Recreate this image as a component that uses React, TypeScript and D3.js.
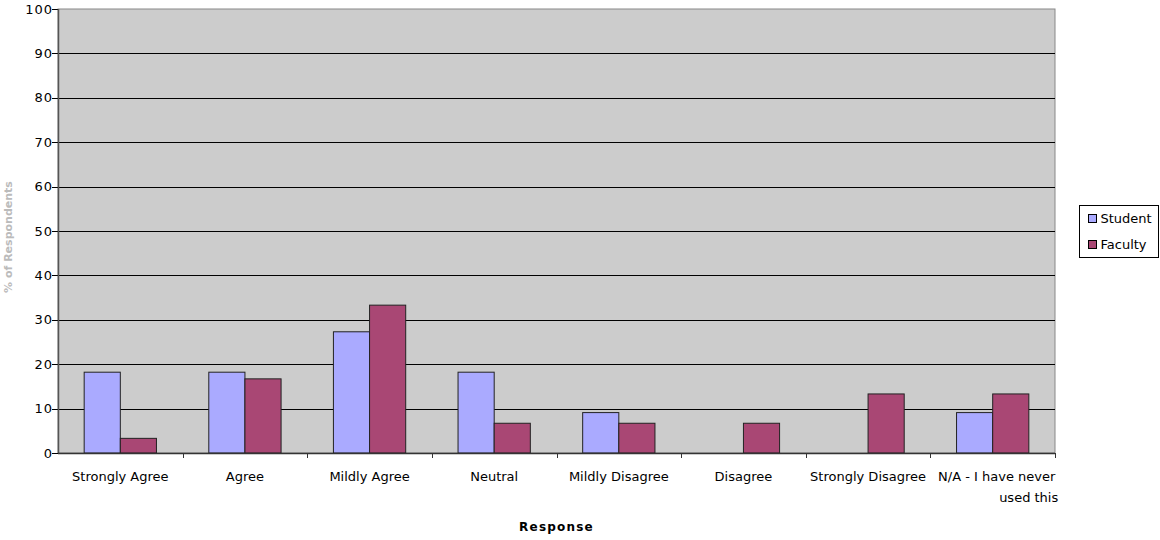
import React from "react";
import * as d3 from "d3";

const categories = [
  "Strongly Agree",
  "Agree",
  "Mildly Agree",
  "Neutral",
  "Mildly Disagree",
  "Disagree",
  "Strongly Disagree",
  "N/A - I have never used this",
];
const studentValues = [18.2, 18.2, 27.3, 18.2, 9.1, 0, 0, 9.1];
const facultyValues = [3.3, 16.7, 33.3, 6.7, 6.7, 6.7, 13.3, 13.3];
const seriesNames = ["Student", "Faculty"];
const seriesColors = ["#aaaaff", "#a94774"];
const yTicks = [0, 10, 20, 30, 40, 50, 60, 70, 80, 90, 100];

const W = 1160;
const H = 540;
const plot = { left: 58, right: 1055, top: 9, bottom: 453 };

export default function App() {
  const x = d3
    .scaleBand<string>()
    .domain(categories)
    .range([plot.left, plot.right])
    .paddingInner(0)
    .paddingOuter(0);
  const bw = x.bandwidth();
  const outer = bw * 0.21;
  const x1 = d3
    .scaleBand<string>()
    .domain(seriesNames)
    .range([outer, bw - outer]);
  const y = d3.scaleLinear().domain([0, 100]).range([plot.bottom, plot.top]);
  const series = [studentValues, facultyValues];
  const font = "'DejaVu Sans', Verdana, sans-serif";

  return (
    <svg
      width={W}
      height={H}
      style={{ position: "absolute", left: 0, top: 0, display: "block" }}
      fontFamily={font}
    >
      <rect x={0} y={0} width={W} height={H} fill="#ffffff" />
      <rect
        x={plot.left}
        y={plot.top}
        width={plot.right - plot.left}
        height={plot.bottom - plot.top}
        fill="#cccccc"
        stroke="#888"
        strokeWidth={1}
      />
      {yTicks.map((t) => (
        <g key={t}>
          {t > 0 && t < 100 && (
            <line
              x1={plot.left}
              x2={plot.right}
              y1={Math.round(y(t)) + 0.5}
              y2={Math.round(y(t)) + 0.5}
              stroke="#000"
              strokeWidth={1}
            />
          )}
          <line
            x1={plot.left - 6}
            x2={plot.left}
            y1={Math.round(y(t)) + 0.5}
            y2={Math.round(y(t)) + 0.5}
            stroke="#000"
          />
          <text
            x={plot.left - 5}
            y={y(t)}
            dy="0.35em"
            textAnchor="end"
            fontSize={13}
            letterSpacing={1}
            fill="#000"
          >
            {t}
          </text>
        </g>
      ))}
      {categories.map((c, i) =>
        series.map((vals, s) => {
          const v = vals[i];
          if (v <= 0) return null;
          const bx = (x(c) as number) + (x1(seriesNames[s]) as number);
          return (
            <rect
              key={c + s}
              x={bx}
              y={y(v)}
              width={x1.bandwidth()}
              height={y(0) - y(v)}
              fill={seriesColors[s]}
              stroke="#222"
              strokeWidth={1}
            />
          );
        })
      )}
      <line
        x1={plot.left + 0.5}
        x2={plot.left + 0.5}
        y1={plot.top}
        y2={plot.bottom}
        stroke="#555"
        strokeWidth={1.5}
      />
      <line
        x1={plot.left}
        x2={plot.right}
        y1={plot.bottom + 0.5}
        y2={plot.bottom + 0.5}
        stroke="#333"
        strokeWidth={1.5}
      />
      {categories.map((c) => (
        <line
          key={"t" + c}
          x1={Math.round((x(c) as number) + bw) + 0.5}
          x2={Math.round((x(c) as number) + bw) + 0.5}
          y1={plot.bottom}
          y2={plot.bottom + 5}
          stroke="#333"
        />
      ))}
      {categories.map((c) => {
        const cx = (x(c) as number) + bw / 2;
        if (c.startsWith("N/A")) {
          return (
            <text key={"l" + c} y={481} fontSize={13} fill="#000" textAnchor="middle">
              <tspan x={cx + 4}>N/A - I have never</tspan>
              <tspan x={cx + 36} dy={21}>used this</tspan>
            </text>
          );
        }
        return (
          <text key={"l" + c} x={cx} y={481} textAnchor="middle" fontSize={13} fill="#000">
            {c}
          </text>
        );
      })}
      <text
        x={(plot.left + plot.right) / 2}
        y={531}
        textAnchor="middle"
        fontSize={12}
        fontWeight="bold"
        letterSpacing={1.2}
        fill="#000"
      >
        Response
      </text>
      <text
        transform={`translate(12, ${(plot.top + plot.bottom) / 2 + 6}) rotate(-90)`}
        textAnchor="middle"
        fontSize={11}
        fontWeight="bold"
        fill="#bbbbbb"
      >
        % of Respondents
      </text>
      <g transform="translate(1079.5, 205.5)">
        <rect width={79} height={52} fill="#fff" stroke="#000" strokeWidth={1} />
        {seriesNames.map((n, i) => (
          <g key={n} transform={`translate(9, ${9 + i * 26})`}>
            <rect width={8} height={8} fill={seriesColors[i]} stroke="#000" strokeWidth={1} />
            <text x={12} y={4} dy="0.35em" fontSize={13} fill="#000">
              {n}
            </text>
          </g>
        ))}
      </g>
    </svg>
  );
}
